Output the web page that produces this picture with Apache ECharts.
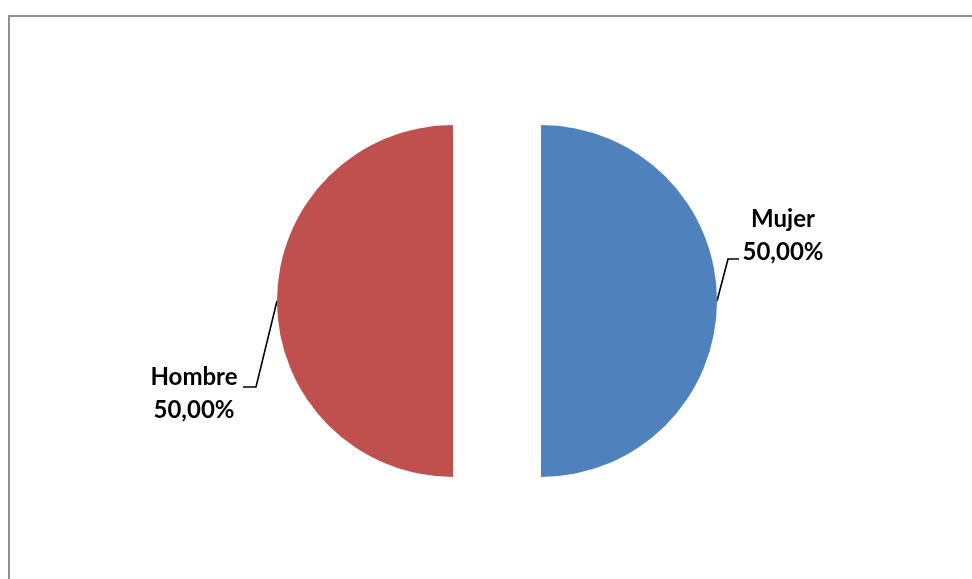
<!DOCTYPE html>
<html>
<head>
<meta charset="utf-8">
<style>
  html, body { margin: 0; padding: 0; background: #ffffff; }
  #chart { width: 972px; height: 579px; }
</style>
<script src="https://cdn.jsdelivr.net/npm/echarts@6/dist/echarts.min.js"></script>
</head>
<body>
<div id="chart"></div>
<script>
// Distribution by sex
const categories = ['Mujer', 'Hombre'];
const values = [50, 50];
const colors = ['#4F81BD', '#C0504D'];

const chart = echarts.init(document.getElementById('chart'), null, { renderer: 'canvas' });

const data = categories.map((name, i) => ({
  name: name,
  value: values[i],
  selected: true,
  itemStyle: { color: colors[i] }
}));

// Leader line bends and label centre, relative to the slice's outer edge point
const labelPlacement = {
  Mujer:  { bend: [11, -42], end: [22, -42], text: [66, -65] },
  Hombre: { bend: [-21, 86], end: [-34, 86], text: [-83, 93] }
};

chart.setOption({
  backgroundColor: '#ffffff',
  animation: false,
  graphic: [{
    type: 'rect',
    shape: { x: 9, y: 16, width: 1000, height: 1000 },
    style: { fill: 'none', stroke: '#8e8e8e', lineWidth: 2 },
    silent: true,
    z: -10
  }],
  series: [{
    type: 'pie',
    center: [497, 301],
    radius: 176,
    startAngle: 90,
    clockwise: true,
    selectedMode: 'multiple',
    selectedOffset: 44,
    emphasis: { disabled: true },
    data: data,
    label: {
      show: true,
      position: 'outside',
      formatter: p => p.name + '\n' + p.percent.toFixed(2).replace('.', ',') + '%',
      fontFamily: 'Lato',
      fontWeight: 'bold',
      fontSize: 24,
      lineHeight: 33,
      color: '#000000'
    },
    labelLine: {
      show: true,
      length: 10,
      length2: 10,
      lineStyle: { color: '#000000', width: 1.6 }
    },
    labelLayout: function (params) {
      const cfg = labelPlacement[categories[params.dataIndex]];
      const pts = params.labelLinePoints;
      if (!cfg || !pts) { return {}; }
      const e = pts[0];
      const r = params.labelRect;
      // text anchor: left edge for labels right of the pie, right edge otherwise
      const anchorX = (r.x + r.width / 2 > e[0]) ? r.x : r.x + r.width;
      const cy = r.y + r.height / 2;
      return {
        align: 'center',
        dx: e[0] + cfg.text[0] - anchorX,
        dy: e[1] + cfg.text[1] - cy,
        labelLinePoints: [
          [e[0], e[1]],
          [e[0] + cfg.bend[0], e[1] + cfg.bend[1]],
          [e[0] + cfg.end[0], e[1] + cfg.end[1]]
        ]
      };
    }
  }]
});
</script>
</body>
</html>
